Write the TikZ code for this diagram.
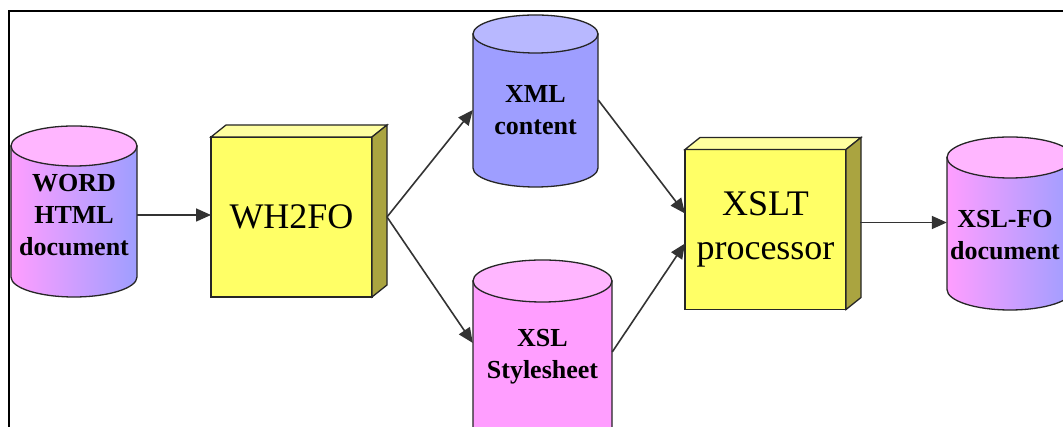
\documentclass[tikz,border=0pt]{standalone}
\usepackage{fontspec}
\setmainfont{Liberation Serif}
\usepackage{xcolor}
\usetikzlibrary{arrows.meta,positioning,calc}

\definecolor{cylpink}{RGB}{255,158,255}
\definecolor{cylpinktop}{RGB}{255,182,255}
\definecolor{cylblue}{RGB}{158,158,255}
\definecolor{cylbluetop}{RGB}{184,184,255}
\definecolor{boxyellow}{RGB}{255,255,102}
\definecolor{boxtop}{RGB}{255,255,160}
\definecolor{boxside}{RGB}{170,164,64}

\tikzset{
  outline/.style={draw=black!85, line width=1.3pt},
  cyltext/.style={font=\fontsize{26}{32}\selectfont\bfseries, align=center, inner sep=0pt},
  boxface/.style={outline, fill=boxyellow, minimum width=161pt, minimum height=160pt,
    inner sep=0pt, outer sep=0pt, align=center, font=\fontsize{36}{44}\selectfont},
  flow/.style={draw=black!80, line width=1.6pt, -{Triangle[length=15pt,width=13pt]}}
}

\begin{document}
\begin{tikzpicture}[x=1pt,y=1pt]
\useasboundingbox (0,0) rectangle (1063,427);
\clip (0,0) rectangle (1063,427);
\fill[white] (0,0) rectangle (1063,427);
% frame
\draw[black, line width=1.8pt] (9,-5) -- (9,416) -- (1070,416);

% cylinders
\shadedraw[outline, left color=cylpink, right color=cylblue] (11,281) -- (11,150) arc[start angle=180, end angle=360, x radius=63, y radius=20] -- (137,281) -- cycle;
\filldraw[outline, fill=cylpinktop] (74,281) ellipse[x radius=63, y radius=20];
\filldraw[outline, fill=cylblue] (473,393) -- (473,259) arc[start angle=180, end angle=360, x radius=62.5, y radius=19] -- (598,393) -- cycle;
\filldraw[outline, fill=cylbluetop] (535.5,393) ellipse[x radius=62.5, y radius=19];
\filldraw[outline, fill=cylpink] (473,146) -- (473,-5) arc[start angle=180, end angle=360, x radius=69.5, y radius=21] -- (612,146) -- cycle;
\filldraw[outline, fill=cylpinktop] (542.5,146) ellipse[x radius=69.5, y radius=21];
\shadedraw[outline, left color=cylpink, right color=cylblue] (947,269.5) -- (947,137.5) arc[start angle=180, end angle=360, x radius=63, y radius=20.5] -- (1073,269.5) -- cycle;
\filldraw[outline, fill=cylpinktop] (1010,269.5) ellipse[x radius=63, y radius=20.5];

% labels
\node[cyltext, minimum width=126pt] (word) at (74,212) {WORD\\HTML\\document};
\node[cyltext, minimum width=125pt] (xml) at (535.5,317) {XML\\content};
\node[cyltext, minimum width=139pt] (xsl) at (542.5,70) {XSL\\Stylesheet};
\node[cyltext, minimum width=116pt] (fo) at (1005,192) {XSL-FO\\document};

% boxes
\node[boxface] (wh) at (291.5,210) {WH2FO};
\filldraw[outline, fill=boxtop] (wh.north west) -- ++(15,12) -- ($(wh.north east)+(15,12)$) -- (wh.north east) -- cycle;
\filldraw[outline, fill=boxside] (wh.north east) -- ++(15,12) -- ($(wh.south east)+(15,12)$) -- (wh.south east) -- cycle;
\node[boxface] (xslt) at (765.5,197.5) {XSLT\\processor};
\filldraw[outline, fill=boxtop] (xslt.north west) -- ++(15,12) -- ($(xslt.north east)+(15,12)$) -- (xslt.north east) -- cycle;
\filldraw[outline, fill=boxside] (xslt.north east) -- ++(15,12) -- ($(xslt.south east)+(15,12)$) -- (xslt.south east) -- cycle;

% arrows
\coordinate (whout) at ([xshift=15pt]wh.east);
\coordinate (xsltout) at ([xshift=14pt,yshift=7pt]xslt.east);
\draw[flow] (word.east) -- (word.east -| wh.west);
\draw[flow] (whout) -- (xml.west);
\draw[flow] (whout) -- ([yshift=14pt]xsl.west);
\draw[flow] ([yshift=10pt]xml.east) -- ([yshift=16pt]xslt.west);
\draw[flow] ([yshift=5pt]xsl.east) -- ([yshift=-14pt]xslt.west);
\draw[flow] (xsltout) -- (xsltout -| fo.west);
\end{tikzpicture}
\end{document}
